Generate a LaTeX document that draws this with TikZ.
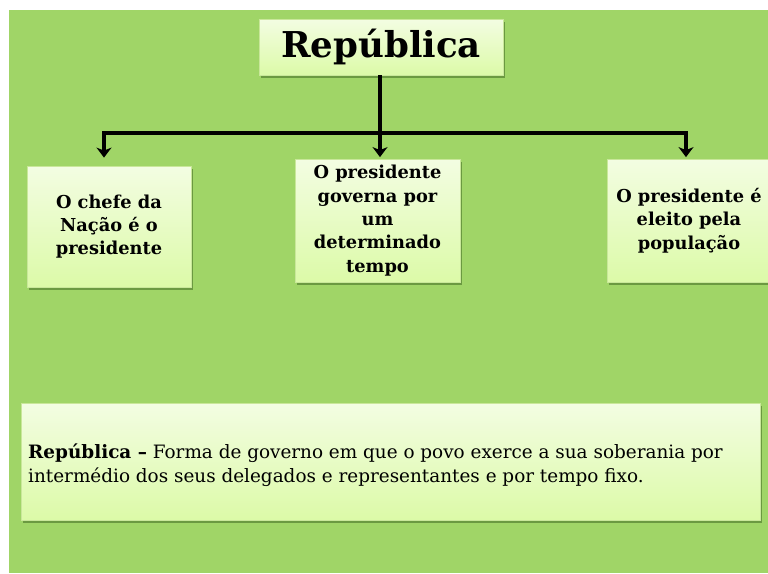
\documentclass[tikz,border=0pt]{standalone}
\usepackage{fontspec}
\setmainfont{DejaVu Serif}
\usetikzlibrary{shadows,arrows.meta,calc}
\definecolor{bggreen}{HTML}{A0D567}
\definecolor{boxtop}{HTML}{F3FDE2}
\definecolor{boxbot}{HTML}{DCFAA8}
\definecolor{boxedge}{HTML}{C9E79A}
\definecolor{shadowgreen}{HTML}{5E8A38}
\tikzset{
  box/.style={draw=boxedge, line width=0.8pt, top color=boxtop, bottom color=boxbot,
    drop shadow={shadow xshift=1.5pt, shadow yshift=-2.5pt, fill=shadowgreen, opacity=0.8},
    inner sep=0pt, align=center},
  boxtext/.style={font=\fontsize{17.8}{23.3}\selectfont\bfseries},
  conn/.style={line width=3.2pt, draw=black},
  arr/.style={conn, -{Stealth[length=10pt,width=15pt,inset=3pt]}}
}
\begin{document}
\begin{tikzpicture}[x=1pt,y=-1pt]
\useasboundingbox (0,0) rectangle (768,573);
\fill[white] (0,0) rectangle (768,573);
\fill[bggreen] (9,10) rectangle (768,573);
\begin{scope}
\clip (9,10) rectangle (768,573);
\node[box, minimum width=244pt, minimum height=56pt, font=\fontsize{35.6}{40}\selectfont\bfseries] (title) at (381,47) {República};
\node[box, boxtext, minimum width=164pt, minimum height=121pt] (b1) at (109,226.5) {O chefe da\\Nação é o\\presidente};
\node[box, boxtext, minimum width=165pt, minimum height=123pt] (b2) at (377.5,220.5) {O presidente\\governa por\\um\\determinado\\tempo};
\node[box, boxtext, minimum width=164pt, minimum height=123pt] (b3) at (689,220.5) {O presidente é\\eleito pela\\população};
\node[box, minimum width=739pt, minimum height=117pt] (def) at (390.5,461.5) {};
\node[anchor=west, align=left, font=\fontsize{18.4}{24}\selectfont, inner sep=0pt] (deftext) at (28,465) {\textbf{República –} Forma de governo em que o povo exerce a sua soberania por\\intermédio dos seus delegados e representantes e por tempo fixo.};
\coordinate (hl) at (104,133);
\coordinate (hr) at (686,133);
\coordinate (hm) at (380,133);
\draw[conn] (380,75) -- (hm);
\draw[conn, line cap=rect] (hl) -- (hr);
\draw[arr] (hl) -- (hl |- b1.north) [shorten >=8pt];
\draw[arr] (hm) -- (hm |- b2.north) [shorten >=1.5pt];
\draw[arr] (hr) -- (hr |- b3.north) [shorten >=1.5pt];
\end{scope}
\end{tikzpicture}
\end{document}
